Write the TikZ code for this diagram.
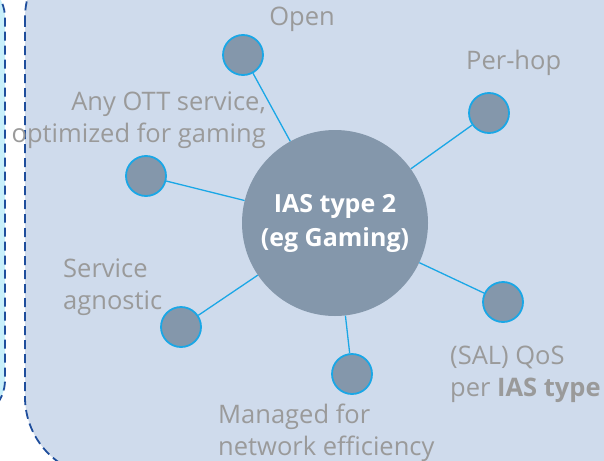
\documentclass[tikz,border=0pt]{standalone}
\usepackage{fontspec}
\setmainfont{Open Sans}
\definecolor{panelfill}{HTML}{CFDBEC}
\definecolor{leftfill}{HTML}{C8F0FB}
\definecolor{dashblue}{HTML}{1F4E9C}
\definecolor{hubfill}{HTML}{8497AB}
\definecolor{linkcyan}{HTML}{1AA7E6}
\definecolor{labelgray}{HTML}{9A9A9A}
\begin{document}
\begin{tikzpicture}[x=1pt,y=-1pt,
  panel/.style={draw=dashblue,line width=1.8pt,dash pattern=on 9pt off 5pt},
  hub/.style={circle,fill=hubfill,minimum size=186pt,inner sep=0pt,text=white,font=\fontsize{25}{34}\selectfont\bfseries,align=center},
  leaf/.style={circle,fill=hubfill,draw=linkcyan,line width=1.8pt,minimum size=40pt,inner sep=0pt},
  link/.style={draw=linkcyan,line width=1.3pt},
  lbl/.style={text=labelgray,font=\fontsize{25.5}{32}\selectfont,inner sep=0pt}]
\useasboundingbox (0,0) rectangle (604,460);
\fill[white] (0,0) rectangle (604,460);
\path[panel,fill=leftfill,rounded corners=40pt] (-200,-22) rectangle (5,420);
\path[panel,fill=panelfill,rounded corners=80pt] (25,-62) rectangle (760,477);
\node[hub] (hub) at (335,223) {IAS type 2\\(eg Gaming)};
\node[leaf] (open) at (243,55) {};
\node[leaf] (perhop) at (489,113) {};
\node[leaf] (ott) at (146,176) {};
\node[leaf] (sal) at (503,302) {};
\node[leaf] (managed) at (352,374) {};
\node[leaf] (agnostic) at (181,327) {};
\foreach \n in {open,perhop,ott,sal,managed,agnostic}{\draw[link] (\n) -- (hub);}
\node[lbl,anchor=base] (topen) at (302,26) {Open};
\node[lbl,anchor=base west] (tperhop) at (466,69) {Per-hop};
\node[lbl,anchor=base east,align=right] (tott) at (266,142) {Any OTT service,\\optimized for gaming};
\node[lbl,anchor=base west,align=left] (tagn) at (63,309) {Service\\agnostic};
\node[lbl,anchor=base west,align=left] (tsal) at (450,396) {(SAL) QoS\\per \textbf{IAS type}};
\node[lbl,anchor=base west,align=left] (tman) at (218,455) {Managed for\\network efficiency};
\end{tikzpicture}
\end{document}
